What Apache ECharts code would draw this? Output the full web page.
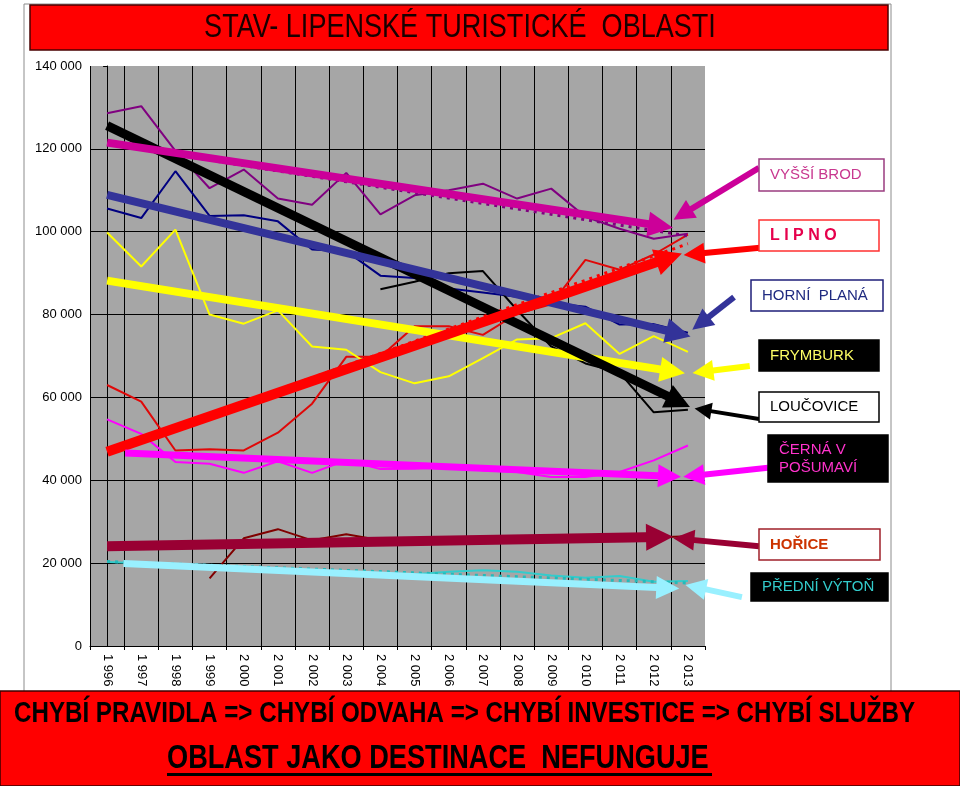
<!DOCTYPE html>
<html>
<head>
<meta charset="utf-8">
<script src="https://cdn.jsdelivr.net/npm/echarts@6/dist/echarts.min.js"></script>
<style>
html,body{margin:0;padding:0;background:#fff;}
#chart{width:960px;height:786px;}
</style>
</head>
<body>
<div id="chart"></div>
<script>
// ---------- DATA ----------
const years = ['1 996','1 997','1 998','1 999','2 000','2 001','2 002','2 003','2 004','2 005','2 006','2 007','2 008','2 009','2 010','2 011','2 012','2 013'];
const yTicks = [0, 20000, 40000, 60000, 80000, 100000, 120000, 140000];

const vyssiBrod   = [128600,130300,119500,110500,115000,108000,106500,114200,104200,108800,110000,111600,108000,110400,103600,100700,98300,99500];
const lipno       = [63000,59000,47200,47500,47200,51500,58500,69800,69800,77200,77200,75100,80200,82500,93200,90800,94500,99300];
const horniPlana  = [105600,103300,114600,103800,104000,102500,95700,95300,89400,88800,86300,85300,84300,82800,81900,77600,77700,75600];
const frymburk    = [99800,91600,100500,80000,77800,81000,72300,71500,66100,63400,65100,69500,74000,74300,77900,70500,74800,71000];
const loucovice   = [null,null,null,null,null,null,null,null,86100,87900,90000,90500,81100,72300,68200,66000,56400,57000];
const cernaV      = [54700,51200,44400,44000,41800,44600,41800,44800,42700,42800,43200,42400,42000,40800,40800,42000,44800,48400];
const horice      = [null,null,null,16300,26000,28200,25500,27000,25500,25500,26300,25800,25800,26000,26000,26000,26200,26500];
const predniVyton = [20300,20000,19500,19200,18800,18500,18200,18000,17600,17300,17900,18300,17900,17000,16500,16900,15500,15700];

// hand-drawn trend arrows (year index, value)
const trendOrder    = ['FRYMBURK','LOUČOVICE','HORNÍ PLANÁ','LIPNO','VYŠŠÍ BROD','ČERNÁ V POŠUMAVÍ','HOŘICE','PŘEDNÍ VÝTOŇ'];
const trendStartIdx = [0, 0, 0, 0, 0, 0.53, 0, 0.48];
const trendStartVal = [88200,125600,108900,46900,121500,46600,24100,19900];
const trendEndIdx   = [16.55,16.73,16.72,16.45,16.2,16.46,16.17,16.41];
const trendEndVal   = [66300,59000,75400,93700,101400,41000,26300,14000];

// spreadsheet dotted trendlines
const dotStartIdx = [0, 0, 0];
const dotStartVal = [121200, 47100, 20400];
const dotEndIdx   = [17, 17, 17];
const dotEndVal   = [99000, 97100, 15200];

// pointers from the name boxes
const ptrFromIdx = [18.81,19.08,18.35,19.34,19.08,19.34,19.08,18.58];
const ptrFromVal = [67600,54800,84200,96300,115400,43000,24100,11800];
const ptrToIdx   = [17.44,17.44,17.37,17.18,16.84,17.17,16.88,17.23];
const ptrToVal   = [66200,57000,77900,94600,104200,41100,25800,14200];

// ---------- STYLES ----------
const FONT = "'Liberation Sans', Arial, sans-serif";
const thinSeries = [
  {name:'VYŠŠÍ BROD', data:vyssiBrod, color:'#800080'},
  {name:'LIPNO', data:lipno, color:'#E00808'},
  {name:'HORNÍ PLANÁ', data:horniPlana, color:'#000080'},
  {name:'FRYMBURK', data:frymburk, color:'#FFFF00'},
  {name:'LOUČOVICE', data:loucovice, color:'#000000'},
  {name:'ČERNÁ V POŠUMAVÍ', data:cernaV, color:'#FF00FF'},
  {name:'HOŘICE', data:horice, color:'#800000'},
  {name:'PŘEDNÍ VÝTOŇ', data:predniVyton, color:'#33CCCC'}
];
const trendColors = ['#FFFF00','#000000','#333399','#FF0000','#CC0099','#FF00FF','#990033','#99F0FF'];
const trendWidths = [8, 9, 8, 10, 8, 7, 10, 7];
const trendHeads  = [25, 25, 25, 27, 25, 23, 27, 23];
const dotColors   = ['#800080','#FF0000','#22BBBB'];
const ptrWidths   = [6, 4, 6, 6, 6, 6, 6, 6];
const ptrHeads    = [21, 17, 21, 21, 21, 21, 21, 21];

const series = [];
thinSeries.forEach(s => {
  series.push({
    type:'line', name:s.name, data:s.data, xAxisIndex:0, yAxisIndex:0,
    symbol:'none', connectNulls:false, z:2,
    lineStyle:{color:s.color, width:2}, itemStyle:{color:s.color}
  });
});
dotStartIdx.forEach((x0,i) => {
  series.push({
    type:'lines', coordinateSystem:'cartesian2d', xAxisIndex:1, yAxisIndex:0, z:3,
    symbol:'none', clip:false,
    lineStyle:{color:dotColors[i], width:3, opacity:1, type:[3,5]},
    data:[{coords:[[x0, dotStartVal[i]],[dotEndIdx[i], dotEndVal[i]]]}]
  });
});
trendStartIdx.forEach((x0,i) => {
  series.push({
    type:'lines', name:trendOrder[i]+' trend', coordinateSystem:'cartesian2d', xAxisIndex:1, yAxisIndex:0,
    z:4+i, clip:false,
    symbol:['none','triangle'], symbolSize:trendHeads[i],
    lineStyle:{color:trendColors[i], width:trendWidths[i], opacity:1, cap:'butt'},
    data:[{coords:[[x0, trendStartVal[i]],[trendEndIdx[i], trendEndVal[i]]]}]
  });
  series.push({
    type:'lines', coordinateSystem:'cartesian2d', xAxisIndex:1, yAxisIndex:0,
    z:20, clip:false,
    symbol:['none','triangle'], symbolSize:ptrHeads[i],
    lineStyle:{color:trendColors[i], width:ptrWidths[i], opacity:1, cap:'butt'},
    data:[{coords:[[ptrFromIdx[i], ptrFromVal[i]],[ptrToIdx[i], ptrToVal[i]]]}]
  });
});

function box(x,y,w,h,fill,stroke){
  return {type:'rect', shape:{x:x,y:y,width:w,height:h}, style:{fill:fill, stroke:stroke, lineWidth:1.5}, z:30};
}
function txt(x,y,text,color,size,weight,align,scaleX,lh){
  return {type:'text', x:x, y:y, scaleX:scaleX||1, z:31,
    style:{text:text, fill:color, fontSize:size, fontWeight:weight||'normal', fontFamily:FONT,
      align:align||'left', textAlign:align||'left', verticalAlign:'middle', textVerticalAlign:'middle',
      lineHeight:lh||size*1.2}};
}

const graphic = [
  {type:'rect', shape:{x:24,y:4,width:867,height:688}, style:{fill:'none', stroke:'#8C8C8C', lineWidth:1}, z:1},
  box(30,5,858,45,'#FF0000','#4A0000'),
  txt(460,28,'STAV- LIPENSKÉ TURISTICKÉ  OBLASTI','#1A0000',33,'normal','center',0.82),
  {type:'rect', shape:{x:0,y:691,width:960,height:95}, style:{fill:'#FF0000', stroke:'#3A0000', lineWidth:1.5}, z:30},
  txt(14,714,'CHYBÍ PRAVIDLA => CHYBÍ ODVAHA => CHYBÍ INVESTICE => CHYBÍ SLUŽBY','#000',29,'bold','left',0.833),
  txt(167,759,'OBLAST JAKO DESTINACE  NEFUNGUJE','#000',33,'bold','left',0.823),
  {type:'rect', shape:{x:167,y:773,width:545,height:3}, style:{fill:'#000'}, z:31},

  box(759,159,125,32,'#FFFFFF','#9A3C80'),
  txt(770,175,'VYŠŠÍ BROD','#C8378F',15),
  box(759,220,120,31,'#FFFFFF','#FF3030'),
  txt(770,236,'L I P N O','#E6004C',16,'bold'),
  box(751,280,132,31,'#FFFFFF','#1F1F7A'),
  txt(762,296,'HORNÍ  PLANÁ','#1F2A80',15),
  box(759,340,120,31,'#000000','#000000'),
  txt(770,356,'FRYMBURK','#FFFF66',15),
  box(759,392,120,30,'#FFFFFF','#000000'),
  txt(770,407,'LOUČOVICE','#000000',15),
  box(768,435,120,47,'#000000','#000000'),
  txt(779,459,'ČERNÁ V\nPOŠUMAVÍ','#FF33CC',15,'normal','left',1,18),
  box(759,529,121,31,'#FFFFFF','#A0202A'),
  txt(770,545,'HOŘICE','#CC3300',15,'bold'),
  box(751,573,137,28,'#000000','#000000'),
  txt(762,587,'PŘEDNÍ VÝTOŇ','#33CCCC',15)
];

const chart = echarts.init(document.getElementById('chart'), null, {renderer:'canvas'});
chart.setOption({
  animation:false,
  backgroundColor:'#FFFFFF',
  grid:{left:90, right:255, top:66, bottom:140, show:true, backgroundColor:'#A6A6A6', borderWidth:0},
  xAxis:[
    {type:'category', data:years, boundaryGap:true, gridIndex:0,
     axisLine:{show:true, lineStyle:{color:'#000', width:1}},
     axisTick:{show:true, length:4, lineStyle:{color:'#000'}},
     axisLabel:{rotate:-90, fontSize:13, color:'#000', fontFamily:FONT, margin:8, interval:0},
     splitLine:{show:true, showMaxLine:false, lineStyle:{color:'#000', width:1}}},
    {type:'value', min:-0.5, max:17.5, show:false, gridIndex:0}
  ],
  yAxis:{type:'value', min:yTicks[0], max:yTicks[yTicks.length-1], interval:20000,
    axisLine:{show:true, lineStyle:{color:'#000', width:1}},
    axisTick:{show:true, length:4, lineStyle:{color:'#000'}},
    axisLabel:{fontSize:13, color:'#000', fontFamily:FONT, margin:8,
      formatter: v => v === 0 ? '0' : String(v).replace(/\B(?=(\d{3})+(?!\d))/g, ' ')},
    splitLine:{show:true, showMaxLine:false, lineStyle:{color:'#000', width:1}}},
  series:series,
  graphic:graphic
});
</script>
</body>
</html>
